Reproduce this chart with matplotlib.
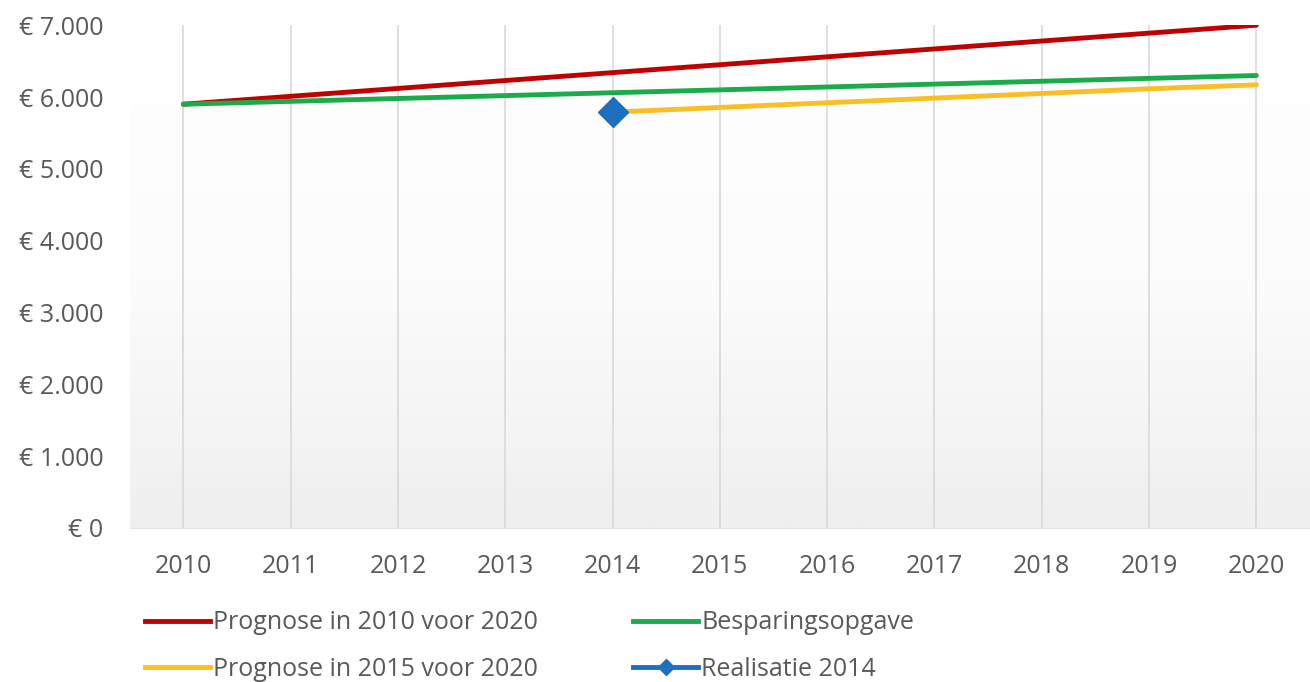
import matplotlib
matplotlib.use("Agg")
import matplotlib.pyplot as plt
import numpy as np
from matplotlib.lines import Line2D

years = ["2010", "2011", "2012", "2013", "2014", "2015", "2016", "2017", "2018", "2019", "2020"]
prognose_2010 = [5900, 6010, 6120, 6230, 6340, 6450, 6560, 6670, 6780, 6890, 7000]
besparing = [5900, 5940, 5980, 6020, 6060, 6100, 6140, 6180, 6220, 6260, 6300]
prognose_2015 = [None, None, None, None, 5790, 5855, 5920, 5985, 6050, 6115, 6170]
realisatie = [None, None, None, None, 5790, None, None, None, None, None, None]
yticks = [0, 1000, 2000, 3000, 4000, 5000, 6000, 7000]
ytick_labels = ["€ 0", "€ 1.000", "€ 2.000", "€ 3.000", "€ 4.000", "€ 5.000", "€ 6.000", "€ 7.000"]

labels = ["Prognose in 2010 voor 2020", "Besparingsopgave", "Prognose in 2015 voor 2020", "Realisatie 2014"]
colors = ["#c00000", "#1aab4a", "#fbbf24", "#1f6fc0"]

plt.rcParams['font.family'] = ['Open Sans', 'DejaVu Sans']
txt = "#595959"

fig = plt.figure(figsize=(13.1, 6.82), dpi=100)
ax = fig.add_axes([0.099, 0.226, 0.901, 0.737])

x = np.arange(len(years))

def arr(v):
    return np.array([np.nan if a is None else a for a in v], dtype=float)

# gradient background: white at top, light gray at bottom
grad = np.linspace(0, 1, 256).reshape(-1, 1)
cmap = matplotlib.colors.LinearSegmentedColormap.from_list("g", ["#ffffff", "#fcfcfc", "#efefef"])
ax.imshow(grad, extent=[0, 1, 0, 1], origin='upper', transform=ax.transAxes, cmap=cmap,
          aspect='auto', zorder=0)

ax.plot(x, arr(prognose_2010), color=colors[0], lw=3.5, solid_capstyle='round', zorder=3)
ax.plot(x, arr(besparing), color=colors[1], lw=3.5, solid_capstyle='round', zorder=3)
ax.plot(x, arr(prognose_2015), color=colors[2], lw=3.5, solid_capstyle='round', zorder=3)
ax.plot(x, arr(realisatie), color=colors[3], lw=3.5, marker='D', markersize=15, zorder=4, linestyle='none')

ax.set_xlim(-0.5, len(years) - 0.5)
ax.set_ylim(0, 7000)
ax.set_yticks(yticks)
ax.set_yticklabels(ytick_labels)
ax.set_xticks(x)
ax.set_xticklabels(years)
ax.tick_params(axis='both', length=0, labelsize=18, colors=txt)
ax.tick_params(axis='x', pad=19)
ax.tick_params(axis='y', pad=19)
ax.grid(axis='x', color='#d9d9d9', lw=1.2, zorder=1)
ax.set_axisbelow(True)
for s in ['top', 'right', 'left']:
    ax.spines[s].set_visible(False)
ax.spines['bottom'].set_color('#e3e3e3')

handles = [
    Line2D([], [], color=colors[0], lw=3.5),
    Line2D([], [], color=colors[2], lw=3.5),
    Line2D([], [], color=colors[1], lw=3.5),
    Line2D([], [], color=colors[3], lw=3.5, marker='D', markersize=8),
]
leg_labels = [labels[0], labels[2], labels[1], labels[3]]
leg = fig.legend(handles, leg_labels, loc='upper left', bbox_to_anchor=(0.111, 0.105), ncol=2,
                 frameon=False, fontsize=18, handlelength=2.6, handletextpad=0.12,
                 columnspacing=3.8, labelspacing=0.85, borderaxespad=0, borderpad=0)
for t in leg.get_texts():
    t.set_color(txt)

fig.savefig("out.png", dpi=100)
